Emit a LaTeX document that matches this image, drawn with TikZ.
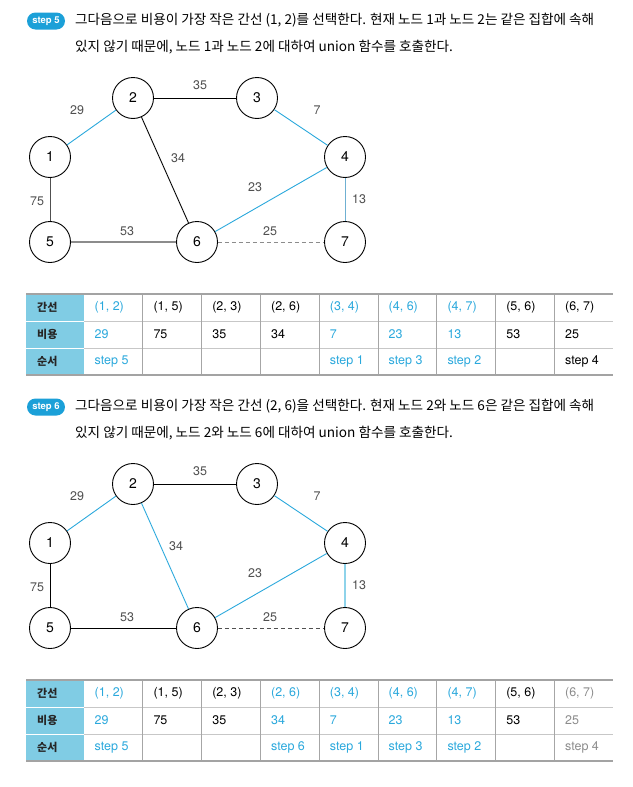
\documentclass[tikz,border=0pt]{standalone}
\usepackage{fontspec}
\setmainfont{TeX Gyre Heros}
\newfontfamily\krfont{Noto Sans CJK KR}
\usetikzlibrary{positioning}
\definecolor{kcyan}{HTML}{2AA8DC}
\definecolor{kbadge}{HTML}{1BA0D8}
\definecolor{khead}{HTML}{80CCE4}
\definecolor{kgray}{HTML}{8C8C8C}
\definecolor{kdark}{HTML}{505050}
\definecolor{kdim}{HTML}{6FB0D2}
\definecolor{klight}{HTML}{8ED3EA}
\tikzset{%
  vertex/.style = {circle,draw,line width=0.9pt,minimum size=41pt,
        inner sep=0pt,font=\fontsize{14}{16}\selectfont},
  weight/.style = {inner sep=0pt,text=kdark,font=\fontsize{12.5}{14}\selectfont},
  pick/.style = {kcyan,line width=0.9pt},
  pickdim/.style = {kdim,line width=0.9pt},
  picklight/.style = {klight,line width=1.5pt},
  plain/.style = {black,line width=0.9pt},
  darkline/.style = {kdark,line width=0.9pt},
  faint/.style = {kgray,line width=1.2pt},
  rejected/.style = {kgray,dashed,dash pattern=on 4pt off 3pt,line width=1pt},
  rejecteddark/.style = {kdark,dashed,dash pattern=on 4pt off 3pt,line width=1pt},
  badge/.style = {rectangle,rounded corners=8.5pt,fill=kbadge,text=white,
        minimum width=38pt,minimum height=17pt,inner sep=0pt,
        font=\bfseries\fontsize{9.5}{10}\selectfont},
  desc/.style = {anchor=west,inner sep=0pt,font=\krfont\fontsize{13.6}{15}\selectfont},
  headcell/.style = {anchor=west,inner sep=0pt,text=black!85,
        font=\krfont\bfseries\fontsize{11}{13}\selectfont},
  cell/.style = {anchor=west,inner sep=0pt,font=\fontsize{12.5}{14}\selectfont},
  border/.style = {kgray!80,line width=1.3pt},
  rowline/.style = {black!22,line width=0.8pt},
  colline/.style = {black!35,line width=0.8pt}
}

\begin{document}
\begin{tikzpicture}[x=1pt,y=-1pt]
   \useasboundingbox (0,0) rectangle (632,787);
   % step 5
   \node[badge] (badge-a) at (46,21) {step 5};
   \node[desc] (desc-a1) at (75,20.5) {그다음으로 비용이 가장 작은 간선 (1, 2)를 선택한다. 현재 노드 1과 노드 2는 같은 집합에 속해};
   \node[desc] (desc-a2) at (75,47.5) {있지 않기 때문에, 노드 1과 노드 2에 대하여 union 함수를 호출한다.};
   \foreach \n/\x/\y in {1/50/157, 2/133/98, 3/257/98, 4/345/157, 5/50/242, 6/197/242, 7/345/242}
      \node[vertex] (a\n) at (\x,\y) {\n};
   \foreach \s/\t/\st in {1/2/pick, 2/3/plain, 3/4/pick, 2/6/plain, 4/6/pick,
         4/7/pickdim, 1/5/darkline, 5/6/faint, 6/7/rejected}
      \draw[\st] (a\s) -- (a\t);
   \foreach \w/\x/\y in {29/77/110, 35/200/85, 7/317/110, 34/178/158, 23/255/187,
         13/359/199, 75/37/201, 53/127/231, 25/270/231}
      \node[weight] (wa\w) at (\x,\y) {\w};
   % step 6
   \node[badge] (badge-b) at (46,407) {step 6};
   \node[desc] (desc-b1) at (75,406.5) {그다음으로 비용이 가장 작은 간선 (2, 6)을 선택한다. 현재 노드 2와 노드 6은 같은 집합에 속해};
   \node[desc] (desc-b2) at (75,433.5) {있지 않기 때문에, 노드 2와 노드 6에 대하여 union 함수를 호출한다.};
   \foreach \n/\x/\y in {1/50/157, 2/133/98, 3/257/98, 4/345/157, 5/50/242, 6/197/242, 7/345/242}
      \node[vertex] (b\n) at (\x,{\y+386}) {\n};
   \foreach \s/\t/\st in {1/2/pick, 2/3/plain, 3/4/pick, 2/6/pick, 4/6/pick,
         4/7/picklight, 1/5/plain, 5/6/plain, 6/7/rejecteddark}
      \draw[\st] (b\s) -- (b\t);
   \foreach \w/\x/\y in {29/77/110, 35/200/85, 7/317/110, 34/176/160, 23/255/187,
         13/359/199, 75/37/201, 53/127/231, 25/270/231}
      \node[weight] (wb\w) at (\x,{\y+386}) {\w};
   % tables
   \foreach \tp in {294,680} {
      \fill[khead] (26,\tp) rectangle (84,{\tp+81});
      \foreach \r in {27,54} {
         \draw[white,line width=1pt] (26,{\tp+\r}) -- (84,{\tp+\r});
         \draw[rowline] (84,{\tp+\r}) -- (613,{\tp+\r});
      }
      \foreach \c in {1,...,8}
         \draw[colline] ({84+58.8*\c},\tp) -- ({84+58.8*\c},{\tp+81});
      \draw[border] (26,\tp) -- (613,\tp);
      \draw[border] (26,{\tp+81}) -- (613,{\tp+81});
   }
   \node[headcell] (ha1) at (37,307.5) {간선};
   \node[headcell] (ha2) at (37,334.5) {비용};
   \node[headcell] (ha3) at (37,361.5) {순서};
   \node[headcell] (hb1) at (37,693.5) {간선};
   \node[headcell] (hb2) at (37,720.5) {비용};
   \node[headcell] (hb3) at (37,747.5) {순서};
   \foreach \c/\edg/\cost/\ord/\clr in {1/{(1, 2)}/29/{step 5}/kcyan, 2/{(1, 5)}/75/{}/black,
         3/{(2, 3)}/35/{}/black, 4/{(2, 6)}/34/{}/black, 5/{(3, 4)}/7/{step 1}/kcyan,
         6/{(4, 6)}/23/{step 3}/kcyan, 7/{(4, 7)}/13/{step 2}/kcyan,
         8/{(5, 6)}/53/{}/black, 9/{(6, 7)}/25/{step 4}/black} {
      \node[cell,text=\clr] (ea\c) at ({84+58.8*(\c-1)+10.5},307.5) {\edg};
      \node[cell,text=\clr] (ca\c) at ({84+58.8*(\c-1)+10.5},334.5) {\cost};
      \node[cell,text=\clr] (oa\c) at ({84+58.8*(\c-1)+10.5},361.5) {\ord};
   }
   \foreach \c/\edg/\cost/\ord/\clr in {1/{(1, 2)}/29/{step 5}/kcyan, 2/{(1, 5)}/75/{}/black,
         3/{(2, 3)}/35/{}/black, 4/{(2, 6)}/34/{step 6}/kcyan, 5/{(3, 4)}/7/{step 1}/kcyan,
         6/{(4, 6)}/23/{step 3}/kcyan, 7/{(4, 7)}/13/{step 2}/kcyan,
         8/{(5, 6)}/53/{}/black, 9/{(6, 7)}/25/{step 4}/kgray} {
      \node[cell,text=\clr] (eb\c) at ({84+58.8*(\c-1)+10.5},693.5) {\edg};
      \node[cell,text=\clr] (cb\c) at ({84+58.8*(\c-1)+10.5},720.5) {\cost};
      \node[cell,text=\clr] (ob\c) at ({84+58.8*(\c-1)+10.5},747.5) {\ord};
   }
\end{tikzpicture}
\end{document}
